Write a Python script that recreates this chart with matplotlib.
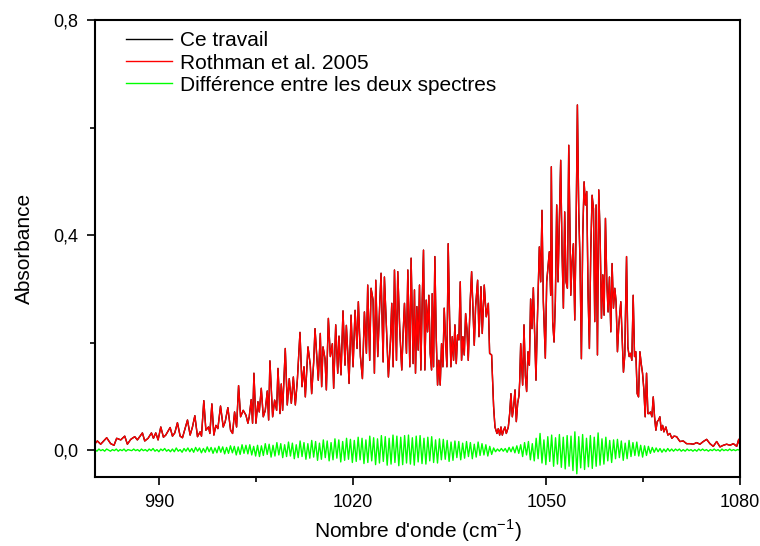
import numpy as np
import matplotlib
matplotlib.use('Agg')
import matplotlib.pyplot as plt
from matplotlib.ticker import FixedLocator, FuncFormatter

plt.rcParams['font.family'] = ['Liberation Sans', 'DejaVu Sans']
plt.rcParams['mathtext.fontset'] = 'custom'
plt.rcParams['mathtext.rm'] = 'Liberation Sans'

# ---- data ----
wavenumber = [
    980.00, 980.36, 980.88, 981.81, 982.43, 982.95, 983.36, 983.99, 984.61, 985.02,
    985.54, 986.16, 986.57, 987.35, 987.71, 988.23, 988.75, 989.06, 989.42, 989.78,
    990.20, 990.61, 990.97, 991.65, 992.01, 992.37, 992.78, 993.20, 993.56, 994.34,
    994.75, 995.11, 995.48, 995.89, 996.30, 996.51,
    996.87, 997.19, 997.60, 997.81, 998.12, 998.43, 998.74, 999.05, 999.46, 999.88,
    1000.19, 1000.60, 1001.02, 1001.33, 1001.64, 1001.95, 1002.26, 1002.57, 1002.98, 1003.40,
    1003.71, 1003.91, 1004.22, 1004.43, 1004.64, 1004.95, 1005.26, 1005.47, 1005.78, 1006.09,
    1006.40, 1006.71, 1006.92, 1007.12, 1007.54, 1007.85, 1008.16, 1008.37, 1008.68, 1008.88,
    1009.09, 1009.50, 1009.81, 1010.12, 1010.44, 1010.75, 1011.06, 1011.37, 1011.78, 1012.09,
    1012.40, 1012.61, 1013.02,
    1013.38, 1013.59, 1013.90, 1014.11, 1014.42, 1014.62, 1014.93, 1015.14, 1015.35, 1015.66,
    1015.87, 1016.18, 1016.49, 1016.80, 1017.00, 1017.32, 1017.63, 1017.83, 1018.14, 1018.45,
    1018.76, 1018.97, 1019.18, 1019.39, 1019.70, 1020.01, 1020.32, 1020.63, 1020.83, 1021.15,
    1021.46, 1021.77, 1022.08, 1022.28, 1022.59, 1022.80, 1023.11, 1023.32, 1023.53, 1023.84,
    1024.15, 1024.35, 1024.67, 1024.87, 1025.18, 1025.49, 1025.80, 1026.01, 1026.22, 1026.43,
    1026.74, 1026.94, 1027.25, 1027.56, 1027.77, 1027.98, 1028.29, 1028.50, 1028.81, 1029.01,
    1029.32, 1029.53,
    1029.69, 1029.90, 1030.11, 1030.31, 1030.52, 1030.73, 1030.93, 1031.14, 1031.35, 1031.56,
    1031.76, 1031.97, 1032.18, 1032.28, 1032.49, 1032.69, 1032.90, 1033.11, 1033.31, 1033.52,
    1033.73, 1033.94, 1034.14, 1034.35, 1034.56, 1034.76, 1034.97, 1035.18, 1035.39, 1035.59,
    1035.80, 1036.01, 1036.21, 1036.42, 1036.63, 1036.83, 1037.04, 1037.25, 1037.46, 1037.66,
    1037.87, 1038.18, 1038.39, 1038.59, 1038.80, 1039.01, 1039.32, 1039.53, 1039.84, 1040.04,
    1040.35, 1040.66, 1040.98, 1041.18, 1041.49, 1041.80, 1042.01, 1042.32, 1042.53, 1042.74,
    1042.94, 1043.15, 1043.36, 1043.56, 1043.77, 1044.08, 1044.29, 1044.49, 1044.70, 1044.91,
    1045.12, 1045.32, 1045.53, 1045.74, 1045.84,
    1046.00, 1046.30, 1046.51, 1046.72, 1046.92, 1047.13, 1047.34, 1047.54, 1047.75, 1047.96,
    1048.17, 1048.37, 1048.58, 1048.89, 1049.10, 1049.30, 1049.51, 1049.82, 1050.03, 1050.24,
    1050.44, 1050.65, 1050.75, 1050.96, 1051.17, 1051.37, 1051.58, 1051.79, 1051.99, 1052.20,
    1052.41, 1052.62, 1052.82, 1053.03, 1053.24, 1053.45, 1053.65, 1053.76, 1053.96, 1054.17,
    1054.38, 1054.58, 1054.79, 1055.00, 1055.20, 1055.41, 1055.62, 1055.83, 1056.03, 1056.24,
    1056.45, 1056.65, 1056.86, 1057.07, 1057.28, 1057.48, 1057.69, 1057.90, 1058.10, 1058.31,
    1058.52, 1058.73, 1058.93, 1059.14, 1059.35, 1059.55, 1059.76, 1059.97, 1060.17, 1060.38,
    1060.59, 1060.79, 1061.00, 1061.21, 1061.52, 1061.73, 1061.93, 1062.14,
    1062.20, 1062.41, 1062.61, 1062.82, 1063.03, 1063.23, 1063.44, 1063.65, 1063.85, 1064.06,
    1064.27, 1064.48, 1064.68, 1064.89, 1065.10, 1065.30, 1065.51, 1065.72, 1065.92, 1066.13,
    1066.34, 1066.55, 1066.75, 1066.96, 1067.17, 1067.37, 1067.58, 1067.79, 1068.00, 1068.20,
    1068.51, 1068.82, 1069.13, 1069.44, 1069.76, 1070.17, 1070.69, 1071.20, 1071.72, 1072.24,
    1072.76, 1073.27, 1073.79, 1074.31, 1074.83, 1075.34, 1075.86, 1076.38, 1076.90, 1077.41,
    1077.93, 1078.45, 1078.97, 1079.49, 1079.80, 1080.00,
]

absorb_ce_travail = [
    0.012, 0.017, 0.011, 0.023, 0.012, 0.009, 0.022, 0.019, 0.026, 0.011,
    0.020, 0.025, 0.019, 0.032, 0.017, 0.022, 0.032, 0.022, 0.032, 0.019,
    0.043, 0.024, 0.028, 0.042, 0.026, 0.032, 0.051, 0.026, 0.023, 0.056,
    0.028, 0.043, 0.064, 0.025, 0.034, 0.026,
    0.092, 0.037, 0.043, 0.031, 0.086, 0.028, 0.046, 0.040, 0.082, 0.043,
    0.053, 0.079, 0.037, 0.031, 0.071, 0.043, 0.120, 0.062, 0.074, 0.065,
    0.050, 0.062, 0.094, 0.050, 0.143, 0.050, 0.090, 0.071, 0.115, 0.062,
    0.074, 0.110, 0.056, 0.166, 0.062, 0.093, 0.074, 0.152, 0.068, 0.123,
    0.074, 0.189, 0.084, 0.133, 0.087, 0.136, 0.084, 0.130, 0.219, 0.118,
    0.155, 0.099, 0.192,
    0.158, 0.105, 0.163, 0.226, 0.167, 0.130, 0.217, 0.118, 0.192, 0.170,
    0.112, 0.245, 0.174, 0.198, 0.115, 0.233, 0.143, 0.212, 0.140, 0.259,
    0.158, 0.232, 0.183, 0.124, 0.251, 0.155, 0.260, 0.189, 0.276, 0.174,
    0.133, 0.257, 0.180, 0.307, 0.167, 0.301, 0.279, 0.143, 0.316, 0.174,
    0.273, 0.329, 0.164, 0.322, 0.229, 0.136, 0.202, 0.273, 0.155, 0.335,
    0.167, 0.332, 0.223, 0.149, 0.217, 0.273, 0.180, 0.335, 0.155, 0.357,
    0.161, 0.298,
    0.143, 0.267, 0.186, 0.307, 0.149, 0.279, 0.372, 0.149, 0.279, 0.220,
    0.288, 0.180, 0.149, 0.291, 0.155, 0.360, 0.211, 0.121, 0.167, 0.121,
    0.198, 0.155, 0.264, 0.205, 0.155, 0.384, 0.248, 0.155, 0.211, 0.167,
    0.233, 0.161, 0.214, 0.205, 0.313, 0.167, 0.211, 0.177, 0.254, 0.226,
    0.167, 0.279, 0.332, 0.267, 0.195, 0.267, 0.316, 0.211, 0.304, 0.217,
    0.307, 0.248, 0.273, 0.180, 0.177, 0.081, 0.043, 0.031, 0.040, 0.028,
    0.043, 0.028, 0.037, 0.043, 0.031, 0.043, 0.068, 0.105, 0.062, 0.081,
    0.112, 0.053, 0.087, 0.102, 0.127,
    0.198, 0.121, 0.233, 0.139, 0.109, 0.183, 0.158, 0.281, 0.226, 0.302,
    0.214, 0.130, 0.239, 0.378, 0.313, 0.446, 0.276, 0.171, 0.313, 0.341,
    0.369, 0.288, 0.527, 0.239, 0.201, 0.276, 0.456, 0.313, 0.422, 0.539,
    0.369, 0.264, 0.443, 0.313, 0.301, 0.567, 0.400, 0.288, 0.350, 0.384,
    0.242, 0.406, 0.642, 0.443, 0.350, 0.170, 0.400, 0.499, 0.456, 0.481,
    0.288, 0.189, 0.369, 0.474, 0.449, 0.239, 0.456, 0.177, 0.484, 0.400,
    0.245, 0.326, 0.251, 0.431, 0.313, 0.257, 0.322, 0.220, 0.347, 0.264,
    0.301, 0.276, 0.183, 0.232, 0.276, 0.207, 0.145, 0.177,
    0.223, 0.360, 0.192, 0.174, 0.180, 0.167, 0.288, 0.174, 0.183, 0.105,
    0.099, 0.183, 0.161, 0.143, 0.112, 0.062, 0.143, 0.068, 0.068, 0.071,
    0.062, 0.099, 0.062, 0.037, 0.053, 0.056, 0.062, 0.037, 0.046, 0.034,
    0.043, 0.028, 0.031, 0.022, 0.026, 0.025, 0.016, 0.017, 0.012, 0.012,
    0.011, 0.014, 0.011, 0.016, 0.020, 0.012, 0.007, 0.016, 0.006, 0.009,
    0.011, 0.009, 0.012, 0.007, 0.020, 0.007,
]

# the two spectra coincide at this scale
absorb_rothman = list(absorb_ce_travail)

# difference spectrum, sampled every 0.3 cm-1 from 980 cm-1
diff_start = 980.0
diff_step = 0.3
diff_values = [
    0.001, -0.002, 0.002, -0.001, 0.001, -0.002, 0.002, 0.000, -0.002, 0.001,
    -0.001, 0.002, -0.002, 0.001, -0.001, 0.002, -0.002, 0.001, 0.000, -0.001,
    0.002, -0.001, 0.001, -0.002, 0.002, -0.001, 0.001, -0.002, 0.002, -0.001,
    0.003, -0.002, 0.001, -0.003, 0.002, -0.001, 0.003, -0.002, 0.001, -0.003,
    0.002, -0.003, 0.004, -0.002, 0.001, -0.004, 0.003, -0.002, 0.004, -0.003,
    0.003, -0.004, 0.005, -0.002, 0.004, -0.005, 0.003, -0.004, 0.006, -0.003,
    0.005, -0.006, 0.004, -0.005, 0.007, -0.004, 0.006, -0.007, 0.005, -0.006,
    0.008, -0.005, 0.007, -0.009, 0.006, -0.008, 0.010, -0.006, 0.009, -0.007,
    0.010, -0.009, 0.007, -0.011, 0.009, -0.012, 0.008, -0.010, 0.012, -0.008,
    0.011, -0.013, 0.009, -0.011, 0.014, -0.009, 0.012, -0.014, 0.010, -0.012,
    0.015, -0.011, 0.013, -0.016, 0.010, -0.014, 0.017, -0.012, 0.014, -0.017,
    0.012, -0.015, 0.018, -0.013, 0.016, -0.019, 0.013, -0.017, 0.019, -0.014,
    0.017, -0.020, 0.014, -0.018, 0.021, -0.015, 0.019, -0.022, 0.016, -0.019,
    0.022, -0.017, 0.020, -0.023, 0.018, -0.021, 0.024, -0.018, 0.022, -0.025,
    0.019, -0.023, 0.026, -0.020, 0.023, -0.027, 0.021, -0.024, 0.027, -0.021,
    0.025, -0.028, 0.022, -0.026, 0.028, -0.023, 0.026, -0.029, 0.024, -0.027,
    0.027, -0.024, 0.028, -0.026, 0.023, -0.028, 0.026, -0.022, 0.027, -0.025,
    0.022, -0.026, 0.024, -0.020, 0.025, -0.023, 0.019, -0.024, 0.021, -0.018,
    0.020, -0.017, 0.018, -0.021, 0.015, -0.019, 0.017, -0.014, 0.016, -0.018,
    0.013, -0.015, 0.016, -0.012, 0.014, -0.016, 0.011, -0.013, 0.015, -0.010,
    0.012, -0.009, 0.010, -0.011, 0.007, -0.008, 0.004, -0.003, 0.002, -0.002,
    0.003, -0.002, 0.003, -0.004, 0.005, -0.003, 0.006, -0.005, 0.008, -0.006,
    0.010, -0.012, 0.014, -0.009, 0.016, -0.018, 0.012, -0.020, 0.022, -0.016,
    0.031, -0.024, 0.019, -0.027, 0.025, -0.021, 0.028, -0.030, 0.023, -0.026,
    0.029, -0.032, 0.024, -0.035, 0.027, -0.030, 0.026, -0.038, 0.034, -0.044,
    0.025, -0.033, 0.029, -0.036, 0.022, -0.031, 0.027, -0.034, 0.024, -0.030,
    0.032, -0.028, 0.021, -0.026, 0.024, -0.020, 0.018, -0.023, 0.019, -0.016,
    0.020, -0.014, 0.017, -0.019, 0.013, -0.016, 0.018, -0.012, 0.014, -0.010,
    0.015, -0.011, 0.009, -0.013, 0.008, -0.010, 0.007, -0.006, 0.005, -0.004,
    0.004, -0.003, 0.003, -0.004, 0.002, -0.003, 0.003, -0.002, 0.002, -0.002,
    0.002, -0.001, 0.002, -0.002, 0.001, -0.002, 0.002, -0.001, 0.001, -0.002,
    0.001, -0.002, 0.002, -0.001, 0.002, -0.001, 0.001, -0.002, 0.001, -0.001,
    0.002, -0.001, 0.001, -0.002, 0.002, -0.001, 0.001, -0.001, 0.002, -0.001,
    0.001, -0.001, 0.001, 0.000,
]
diff_wn = diff_start + diff_step * np.arange(len(diff_values))

labels = ['Ce travail', 'Rothman et al. 2005', 'Différence entre les deux spectres']

# ---- figure ----
fig = plt.figure(figsize=(7.6, 5.46), dpi=100)
ax = fig.add_axes([95 / 760, 69 / 546, 645 / 760, 457 / 546])

ax.plot(wavenumber, absorb_ce_travail, color='black', lw=1.0, label=labels[0])
ax.plot(wavenumber, absorb_rothman, color='#ff0000', lw=1.0, label=labels[1])
ax.plot(diff_wn, diff_values, color='#00ff00', lw=1.0, label=labels[2])

ax.set_xlim(980, 1080)
ax.set_ylim(-0.05, 0.8)

ax.xaxis.set_major_locator(FixedLocator([990, 1020, 1050, 1080]))
ax.xaxis.set_minor_locator(FixedLocator([1005, 1035, 1065]))
ax.yaxis.set_major_locator(FixedLocator([0.0, 0.4, 0.8]))
ax.yaxis.set_minor_locator(FixedLocator([0.2, 0.6]))
ax.yaxis.set_major_formatter(FuncFormatter(lambda v, p: f'{v:.1f}'.replace('.', ',')))

ax.tick_params(which='major', direction='out', length=6, width=1.2, labelsize=13,
               top=False, right=False, pad=6)
ax.tick_params(which='minor', direction='out', length=3.5, width=1.2,
               top=False, right=False)
for s in ax.spines.values():
    s.set_linewidth(1.5)

ax.set_xlabel("Nombre d'onde (cm$^{-1}$)", fontsize=15, labelpad=5)
ax.set_ylabel('Absorbance', fontsize=15, labelpad=14)

ax.legend(loc='upper left', bbox_to_anchor=(0.03, 1.0), frameon=False, fontsize=15,
          handlelength=2.2, handletextpad=0.4, labelspacing=0.15, borderaxespad=0.15)

plt.savefig('out.png', dpi=100)
